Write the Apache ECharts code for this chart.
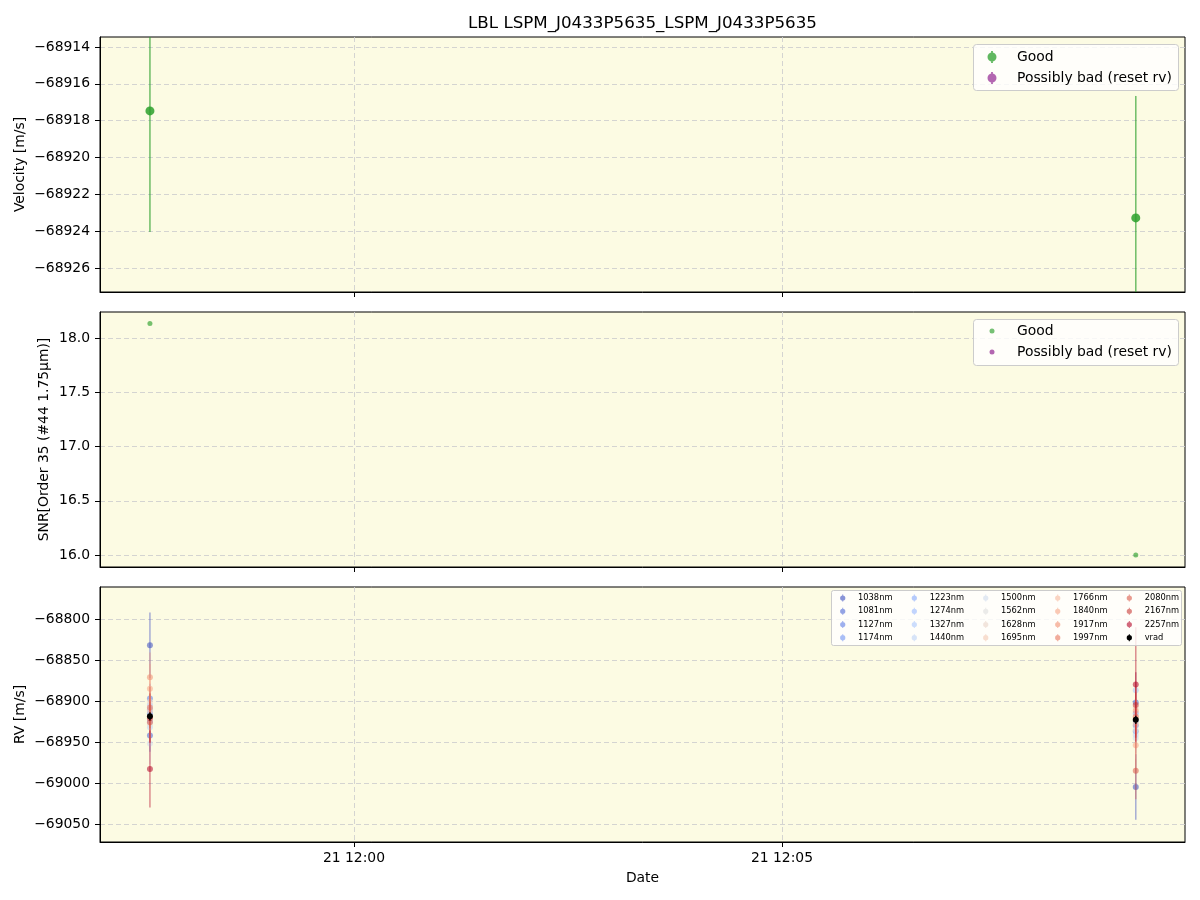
<!DOCTYPE html>
<html><head><meta charset="utf-8">
<script src="https://cdn.jsdelivr.net/npm/echarts@6/dist/echarts.min.js"></script>
<style>html,body{margin:0;padding:0;background:#fff}#c{width:1200px;height:900px}</style>
</head><body><div id="c"></div>
<script>
// ---------- data ----------
const times = ['2024-01-21T11:57:37', '2024-01-21T12:09:08'];
const xRange = ['2024-01-21T11:57:02', '2024-01-21T12:09:42.5'];
const xTickTimes = ['2024-01-21T12:00:00', '2024-01-21T12:05:00'];

const velGood = [-68917.47, -68923.28];
const velGoodErr = [6.57, 6.62];
const velRange = [-68927.3, -68913.46];
const velTicks = [-68926, -68924, -68922, -68920, -68918, -68916, -68914];

const snrGood = [18.135, 16.0];
const snrRange = [15.89, 18.24];
const snrTicks = [16.0, 16.5, 17.0, 17.5, 18.0];

const wavelengths = ['1038nm','1081nm','1127nm','1174nm','1223nm','1274nm','1327nm','1440nm','1500nm','1562nm','1628nm','1695nm','1766nm','1840nm','1917nm','1997nm','2080nm','2167nm','2257nm'];
const rvT1 = [-68832, -68942, -68897, -68915, -68910, -68925, -68905, -68932, -68952, -68928, -68901, -68912, -68920, -68885, -68871, -68908, -68926, -68921, -68983];
const errT1 = [40, 20, 18, 20, 18, 20, 22, 22, 25, 25, 25, 25, 30, 30, 30, 25, 25, 30, 47];
const rvT2 = [-69005, -68902, -68930, -68937, -68915, -68925, -68887, -68941.5, -68945.5, -68935, -68908, -68920, -68928, -68954, -68912, -68919, -68985, -68905, -68880];
const errT2 = [40, 20, 18, 20, 18, 20, 22, 22, 25, 25, 25, 25, 30, 30, 30, 30, 35, 40, 70];
const vrad = [-68918.7, -68923.0];
const vradErr = [5, 5];
const rvRange = [-69072, -68761];
const rvTicks = [-69050, -69000, -68950, -68900, -68850, -68800];

// ---------- styles ----------
const wlColors = ['#3b4cc0','#4b65d5','#5d7ce6','#7092f3','#83a6fb','#97b8ff','#aac7fe','#bcd2f7','#cedaec','#dddddd','#ead4c8','#f3c8b2','#f7b89c','#f7a586','#f18f71','#e7755c','#da5948','#c83936','#b40426'];
const FONT = 'DejaVu Sans';
const BG = '#fcfbe3';
const GOOD = '#2ca02c', BAD = '#800080';

const ts = s => Date.parse(s);
const minus = v => String(v).replace('-', '\u2212');
const ebIcon = 'path://M4.4,0H5.6V8H4.4Z M5,1A3,3 0 1 1 5,7A3,3 0 1 1 5,1Z';

function errSeries(name, gi, data, color, r, lw, opM, opL, z) {
  return {
    type: 'custom', name, xAxisIndex: gi, yAxisIndex: gi, data, z: z || 2,
    itemStyle: { color }, encode: { x: 0, y: 1 }, silent: true,
    renderItem: function (params, api) {
      const x = api.value(0), y = api.value(1), e = api.value(2);
      const p = api.coord([x, y]);
      const t = api.coord([x, y + e]);
      const b = api.coord([x, y - e]);
      const cs = params.coordSys;
      const y1 = Math.max(cs.y, t[1]), y2 = Math.min(cs.y + cs.height, b[1]);
      return { type: 'group', children: [
        { type: 'line', shape: { x1: p[0], y1: y1, x2: p[0], y2: y2 }, style: { stroke: color, lineWidth: lw, opacity: opL } },
        { type: 'circle', shape: { cx: p[0], cy: p[1], r: r }, style: { fill: color, opacity: opM } }
      ]};
    }
  };
}

const grids = [
  { left: 100, top: 37, width: 1085, height: 255 },
  { left: 100, top: 312, width: 1085, height: 255 },
  { left: 100, top: 587, width: 1085, height: 255 }
].map(g => Object.assign(g, { show: true, backgroundColor: BG, borderColor: '#000', borderWidth: 1, containLabel: false }));

const splitStyle = { show: true, lineStyle: { color: '#cfcfcf', type: [5, 3], width: 0.9 } };
const xTickVals = xTickTimes.map(ts);
function xAxis(gi, labels) {
  return {
    type: 'value', gridIndex: gi, min: ts(xRange[0]), max: ts(xRange[1]),
    axisLine: { show: true, lineStyle: { color: '#000' } },
    axisTick: { show: true, inside: false, length: 5, customValues: xTickVals, lineStyle: { color: '#000' } },
    splitLine: splitStyle,
    axisLabel: {
      show: labels, customValues: xTickVals, margin: 9, color: '#000', fontFamily: FONT, fontSize: 13.9,
      formatter: v => { const d = new Date(v); return d.getDate() + ' ' + String(d.getHours()).padStart(2, '0') + ':' + String(d.getMinutes()).padStart(2, '0'); }
    },
    name: labels ? 'Date' : '', nameLocation: 'middle', nameGap: 29, nameMoveOverlap: false,
    nameTextStyle: { color: '#000', fontFamily: FONT, fontSize: 13.9 }
  };
}
function yAxis(gi, range, ticks, fmt, name, gap) {
  return {
    type: 'value', gridIndex: gi, min: range[0], max: range[1],
    axisLine: { show: true, lineStyle: { color: '#000' } },
    axisTick: { show: true, length: 5, customValues: ticks, lineStyle: { color: '#000' } },
    splitLine: splitStyle,
    axisLabel: { customValues: ticks, formatter: fmt, margin: 10, color: '#000', fontFamily: FONT, fontSize: 13.9 },
    name, nameLocation: 'middle', nameGap: gap, nameRotate: 90, nameMoveOverlap: false,
    nameTextStyle: { color: '#000', fontFamily: FONT, fontSize: 13.9 }
  };
}

const series = [];
series.push(errSeries('Good', 0, times.map((t, i) => [ts(t), velGood[i], velGoodErr[i]]), GOOD, 4.5, 1.6, 0.85, 0.65));
series.push(errSeries('Possibly bad (reset rv)', 0, [], BAD, 4.5, 1.5, 0.6, 0.6));
series.push({ type: 'scatter', name: 'Good', xAxisIndex: 1, yAxisIndex: 1, symbolSize: 5, silent: true,
  itemStyle: { color: GOOD, opacity: 0.65 }, data: times.map((t, i) => [ts(t), snrGood[i]]) });
series.push({ type: 'scatter', name: 'Possibly bad (reset rv)', xAxisIndex: 1, yAxisIndex: 1, symbolSize: 5, silent: true,
  itemStyle: { color: BAD, opacity: 0.6 }, data: [] });
wavelengths.forEach((w, k) => {
  series.push(errSeries(w, 2, [[ts(times[0]), rvT1[k], errT1[k]], [ts(times[1]), rvT2[k], errT2[k]]], wlColors[k], 3, 1.5, 0.55, 0.45));
});
series.push(errSeries('vrad', 2, times.map((t, i) => [ts(t), vrad[i], vradErr[i]]), '#000', 3, 1.5, 1, 0.9, 3));

const legendText = { color: '#000', fontFamily: FONT, fontSize: 13.9, lineHeight: 14 };
const legends = [
  { left: 987.5, top: 50, orient: 'vertical', itemWidth: 40, itemHeight: 12, itemGap: 7, padding: 0, selectedMode: false, z: 20,
    textStyle: legendText,
    data: [{ name: 'Good', icon: ebIcon, itemStyle: { color: GOOD, opacity: 0.75 } },
           { name: 'Possibly bad (reset rv)', icon: ebIcon, itemStyle: { color: BAD, opacity: 0.6 } }] },
  { left: 989.5, top: 324, orient: 'vertical', itemWidth: 40, itemHeight: 5, itemGap: 7, padding: 0, selectedMode: false, z: 20,
    textStyle: legendText,
    data: [{ name: 'Good', icon: 'circle', itemStyle: { color: GOOD, opacity: 0.65 } },
           { name: 'Possibly bad (reset rv)', icon: 'circle', itemStyle: { color: BAD, opacity: 0.6 } }] }
];
const allRv = wavelengths.concat(['vrad']);
const colIcon = [842.7, 914.3, 985.7, 1057.7, 1129.3];
for (let c = 0; c < 5; c++) {
  const items = allRv.slice(c * 4, c * 4 + 4).map((n, j) => {
    const k = c * 4 + j;
    const col = k < wavelengths.length ? wlColors[k] : '#000';
    return { name: n, icon: ebIcon, itemStyle: { color: col, opacity: k < wavelengths.length ? 0.6 : 1 } };
  });
  legends.push({ left: colIcon[c] - 2.6, top: 593.6, orient: 'vertical', itemWidth: 20.6, itemHeight: 7, itemGap: 4.2, padding: 0,
    selectedMode: false, z: 20, textStyle: { color: '#000', fontFamily: FONT, fontSize: 8.3, lineHeight: 9 }, data: items });
}

const boxStyle = { fill: 'rgba(255,255,255,0.8)', stroke: '#cccccc', lineWidth: 1 };
const option = {
  animation: false,
  backgroundColor: '#fff',
  textStyle: { fontFamily: FONT },
  grid: grids,
  xAxis: [xAxis(0, false), xAxis(1, false), xAxis(2, true)],
  yAxis: [
    yAxis(0, velRange, velTicks, v => minus(v), 'Velocity [m/s]', 73),
    yAxis(1, snrRange, snrTicks, v => v.toFixed(1), 'SNR[Order 35 (#44 1.75\u03bcm)]', 49),
    yAxis(2, rvRange, rvTicks, v => minus(v), 'RV [m/s]', 73)
  ],
  legend: legends,
  graphic: [
    { type: 'text', x: 642.5, y: 24, z: 30, style: { text: 'LBL LSPM_J0433P5635_LSPM_J0433P5635', fill: '#000', font: '16.7px "DejaVu Sans"', textAlign: 'center', textVerticalAlign: 'middle' } },
    { type: 'rect', z: 15, shape: { x: 973.5, y: 44.5, width: 205, height: 46, r: 3 }, style: boxStyle },
    { type: 'rect', z: 15, shape: { x: 973.5, y: 319.5, width: 205, height: 46, r: 3 }, style: boxStyle },
    { type: 'rect', z: 15, shape: { x: 831.5, y: 590.5, width: 350, height: 55, r: 2 }, style: boxStyle }
  ],
  series
};
const chart = echarts.init(document.getElementById('c'), null, { renderer: 'canvas' });
chart.setOption(option);
</script></body></html>
